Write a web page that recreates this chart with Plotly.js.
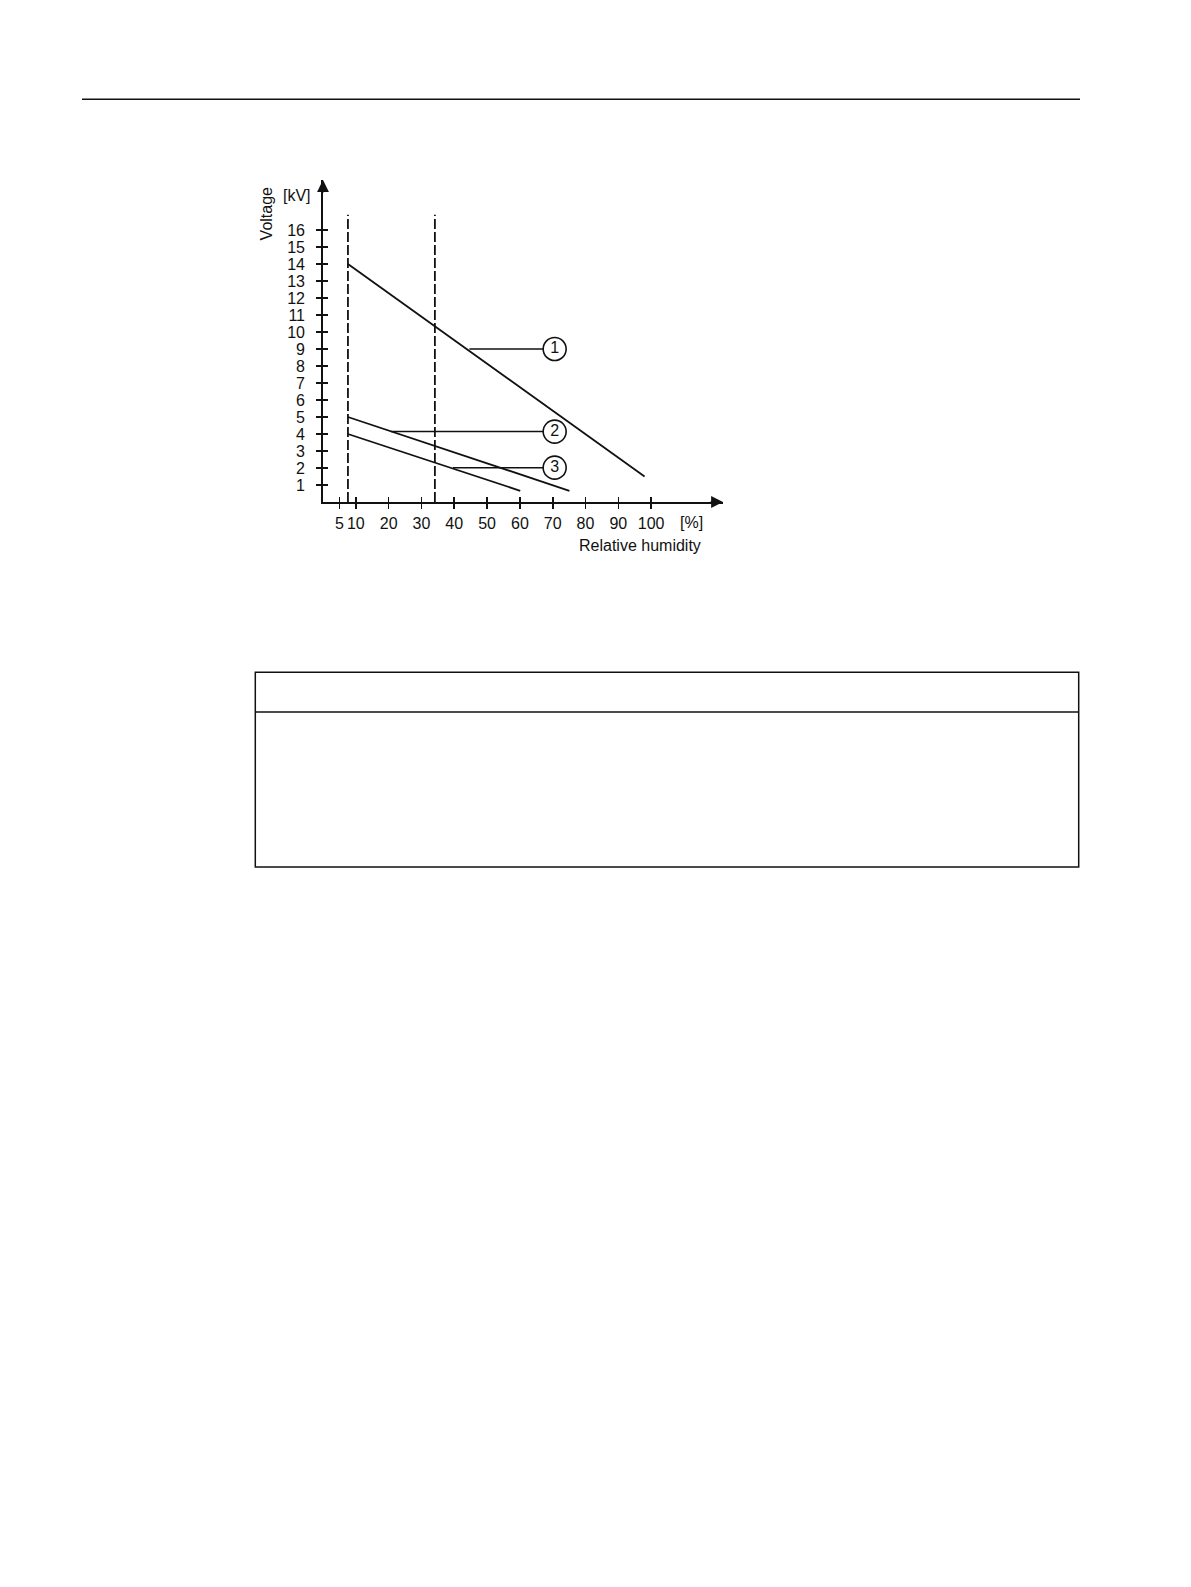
<!DOCTYPE html>
<html>
<head>
<meta charset="utf-8">
<script src="https://cdn.plot.ly/plotly-3.0.1.min.js"></script>
<style>
  html, body { margin: 0; padding: 0; background: #ffffff; }
  #chart { width: 1191px; height: 1587px; }
</style>
</head>
<body>
<div id="chart"></div>
<script>
// ---------- data ----------
const xTickVals = [5, 10, 20, 30, 40, 50, 60, 70, 80, 90, 100];
const xTickText = ['5', '10', '20', '30', '40', '50', '60', '70', '80', '90', '100'];
const yTickVals = [1, 2, 3, 4, 5, 6, 7, 8, 9, 10, 11, 12, 13, 14, 15, 16];
const yTickText = ['1', '2', '3', '4', '5', '6', '7', '8', '9', '10', '11', '12', '13', '14', '15', '16'];

// curve 1, 2, 3: relative humidity [%] vs voltage [kV]
const humidity1 = [7.6, 98.0];
const voltage1  = [14.0, 1.5];
const humidity2 = [7.6, 75.1];
const voltage2  = [5.0, 0.66];
const humidity3 = [7.6, 60.1];
const voltage3  = [4.0, 0.66];

// vertical dashed limit lines
const limitHumidity = [7.6, 34.1];
const limitVoltageTop = 16.9;

// callout markers
const calloutLabels = ['1', '2', '3'];
const calloutX = [70.6, 70.6, 70.6];
const calloutY = [9.0, 4.14, 2.02];
const leaderStartX = [44.6, 20.7, 39.6];

const xMax = 121.9;
const yMax = 18.94;

// ---------- layout geometry (pixels) ----------
const W = 1191, H = 1587;
const L = 323, R = 723, T = 180, B = 502;
const px = v => (v - L) / (R - L);
const py = v => (B - v) / (B - T);

const FONT = 'Liberation Sans, Arial, sans-serif';
const INK = '#111111';

const traces = [];
const curves = [[humidity1, voltage1], [humidity2, voltage2], [humidity3, voltage3]];
curves.forEach(c => traces.push({
  type: 'scatter', mode: 'lines', x: c[0], y: c[1],
  line: { color: INK, width: 1.8 }, hoverinfo: 'skip', showlegend: false
}));
limitHumidity.forEach(h => traces.push({
  type: 'scatter', mode: 'lines', x: [h, h], y: [0, limitVoltageTop],
  line: { color: INK, width: 1.8, dash: '10px,3px' }, hoverinfo: 'skip', showlegend: false
}));
calloutLabels.forEach((lab, i) => traces.push({
  type: 'scatter', mode: 'lines', x: [leaderStartX[i], calloutX[i]], y: [calloutY[i], calloutY[i]],
  line: { color: INK, width: 1.5 }, hoverinfo: 'skip', showlegend: false
}));
traces.push({
  type: 'scatter', mode: 'markers+text', x: calloutX, y: calloutY, text: calloutLabels,
  textposition: 'middle center', textfont: { family: FONT, size: 16, color: INK },
  marker: { symbol: 'circle', size: 23, color: '#ffffff', line: { color: INK, width: 1.6 } },
  cliponaxis: false, hoverinfo: 'skip', showlegend: false
});
// carrier for the overlay axes (inner half of the crossing ticks)
traces.push({ type: 'scatter', mode: 'markers', x: [null], y: [null], xaxis: 'x2', yaxis: 'y2',
  showlegend: false, hoverinfo: 'skip' });

const tickFont = { family: FONT, size: 16, color: INK };

const layout = {
  width: W, height: H,
  margin: { l: L, r: W - R, t: T, b: H - B, pad: 0 },
  paper_bgcolor: '#ffffff', plot_bgcolor: 'rgba(0,0,0,0)',
  showlegend: false,
  xaxis: {
    range: [0, xMax], showgrid: false, zeroline: false,
    showline: true, linecolor: INK, linewidth: 1.8,
    ticks: 'outside', ticklen: 5, tickwidth: 1.6, tickcolor: INK,
    tickvals: xTickVals, ticktext: xTickText, tickfont: tickFont,
    ticklabelstandoff: 1
  },
  yaxis: {
    range: [0, yMax], showgrid: false, zeroline: false,
    showline: true, linecolor: INK, linewidth: 1.8,
    ticks: 'outside', ticklen: 5, tickwidth: 1.6, tickcolor: INK,
    tickvals: yTickVals, ticktext: yTickText, tickfont: tickFont,
    ticklabelstandoff: 8
  },
  xaxis2: {
    overlaying: 'x', anchor: 'y2', side: 'bottom', range: [0, xMax],
    showgrid: false, zeroline: false, showline: false,
    ticks: 'inside', ticklen: 5, tickwidth: 1.6, tickcolor: INK,
    tickvals: xTickVals, showticklabels: false
  },
  yaxis2: {
    overlaying: 'y', anchor: 'x2', side: 'left', range: [0, yMax],
    showgrid: false, zeroline: false, showline: false,
    ticks: 'inside', ticklen: 5, tickwidth: 1.6, tickcolor: INK,
    tickvals: yTickVals, showticklabels: false
  },
  annotations: [
    // axis arrowheads
    { x: xMax, y: 0, xref: 'x', yref: 'y', text: '', showarrow: true, ax: -14, ay: 0,
      arrowhead: 2, arrowsize: 1.4, arrowwidth: 1.7, arrowcolor: INK, standoff: 0 },
    { x: 0, y: yMax, xref: 'x', yref: 'y', text: '', showarrow: true, ax: 0, ay: 14,
      arrowhead: 2, arrowsize: 1.4, arrowwidth: 1.7, arrowcolor: INK, standoff: 0 },
    // axis captions
    { x: px(266.7), y: py(213.7), xref: 'paper', yref: 'paper', text: 'Voltage', textangle: -90,
      showarrow: false, xanchor: 'center', yanchor: 'middle', font: { family: FONT, size: 16, color: INK } },
    { x: px(297.3), y: py(195), xref: 'paper', yref: 'paper', text: '[kV]',
      showarrow: false, xanchor: 'center', yanchor: 'middle', font: { family: FONT, size: 16, color: INK } },
    { x: px(691.7), y: py(522.3), xref: 'paper', yref: 'paper', text: '[%]',
      showarrow: false, xanchor: 'center', yanchor: 'middle', font: { family: FONT, size: 16, color: INK } },
    { x: px(702.7), y: py(545.7), xref: 'paper', yref: 'paper', text: 'Relative humidity',
      showarrow: false, xanchor: 'right', yanchor: 'middle', font: { family: FONT, size: 16, color: INK } }
  ],
  shapes: [
    // page header rule
    { type: 'line', xref: 'paper', yref: 'paper', x0: px(82), x1: px(1080), y0: py(99.3), y1: py(99.3),
      line: { color: INK, width: 1.4 } },
    // empty box below the chart
    { type: 'rect', xref: 'paper', yref: 'paper', x0: px(255.3), x1: px(1078.7), y0: py(672.3), y1: py(867),
      line: { color: INK, width: 1.5 }, fillcolor: 'rgba(0,0,0,0)' },
    { type: 'line', xref: 'paper', yref: 'paper', x0: px(255.3), x1: px(1078.7), y0: py(712), y1: py(712),
      line: { color: INK, width: 1.5 } }
  ]
};

Plotly.newPlot('chart', traces, layout, { staticPlot: true, displayModeBar: false });
</script>
</body>
</html>
